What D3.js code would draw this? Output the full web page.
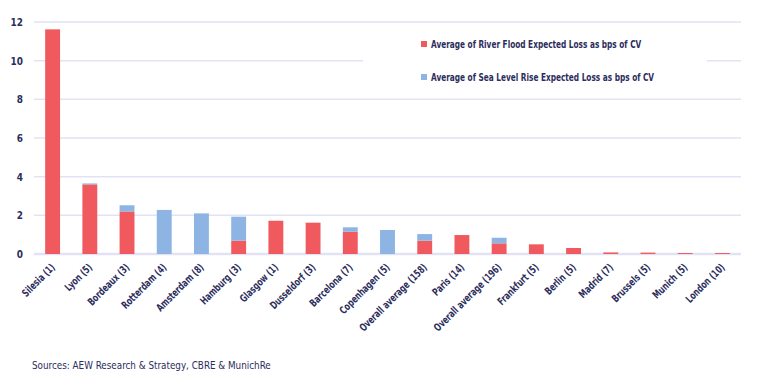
<!DOCTYPE html>
<html>
<head>
<meta charset="utf-8">
<script src="https://cdn.jsdelivr.net/npm/d3@7"></script>
<style>
  body { margin: 0; background: #fff; }
  svg text { font-family: "Liberation Sans Narrow", "DejaVu Sans Condensed", sans-serif; fill: #2b2d5c; }
</style>
</head>
<body>
<div id="chart"></div>
<script>
// cities (number of assets in brackets)
const categories = ["Silesia (1)", "Lyon (5)", "Bordeaux (3)", "Rotterdam (4)", "Amsterdam (8)", "Hamburg (3)",
  "Glasgow (1)", "Dusseldorf (3)", "Barcelona (7)", "Copenhagen (5)", "Overall average (158)", "Paris (14)",
  "Overall average (196)", "Frankfurt (5)", "Berlin (5)", "Madrid (7)", "Brussels (5)", "Munich (5)", "London (10)"];
const riverFlood = [11.62, 3.6, 2.2, 0, 0, 0.69, 1.72, 1.62, 1.15, 0, 0.69, 0.98, 0.55, 0.5, 0.31, 0.08, 0.07, 0.05, 0.05];
const seaLevel   = [0, 0.05, 0.32, 2.28, 2.1, 1.24, 0, 0, 0.23, 1.24, 0.34, 0, 0.29, 0, 0, 0, 0, 0, 0];
const yTicks = [0, 2, 4, 6, 8, 10, 12];
const seriesNames = ["Average of River Flood Expected Loss as bps of CV", "Average of Sea Level Rise Expected Loss as bps of CV"];
const colors = ["#f05a5e", "#8db4e2"];

const width = 759, height = 379;
const margin = {left: 34, right: 741, top: 22, bottom: 254};
const squeeze = 0.78; // the original font is a narrow one

const svg = d3.select("#chart").append("svg")
  .attr("width", width)
  .attr("height", height);

const x = d3.scaleBand().domain(categories).range([margin.left, margin.right]).paddingInner(0.6).paddingOuter(0.3);
const y = d3.scaleLinear().domain([0, 12]).range([margin.bottom, margin.top]);

// gridlines
svg.append("g").selectAll("line")
  .data(yTicks)
  .enter().append("line")
  .attr("x1", margin.left).attr("x2", margin.right)
  .attr("y1", d => y(d)).attr("y2", d => y(d))
  .attr("stroke", "#e1e3f5")
  .attr("stroke-width", d => d === 0 ? 2.5 : 1.5);

// y labels
svg.append("g").selectAll("text")
  .data(yTicks)
  .enter().append("text")
  .attr("transform", d => `translate(23,${y(d) + 4}) scale(0.9,1)`)
  .attr("text-anchor", "end")
  .attr("font-size", 11)
  .attr("font-weight", "bold")
  .text(d => d);

// stacked bars
const rows = categories.map((c, i) => ({cat: c, river: riverFlood[i], sea: seaLevel[i]}));
const stacked = d3.stack().keys(["river", "sea"])(rows);

svg.append("g").selectAll("g")
  .data(stacked)
  .enter().append("g")
  .attr("fill", (d, i) => colors[i])
  .selectAll("rect")
  .data(d => d)
  .enter().append("rect")
  .attr("x", d => x(d.data.cat))
  .attr("width", x.bandwidth())
  .attr("y", d => y(d[1]))
  .attr("height", d => y(d[0]) - y(d[1]));

// x labels, rotated
svg.append("g").selectAll("text")
  .data(categories)
  .enter().append("text")
  .attr("transform", d => `translate(${x(d) + x.bandwidth() / 2 + 3},${margin.bottom + 14}) rotate(-45) scale(${squeeze},1)`)
  .attr("text-anchor", "end")
  .attr("font-size", 10.5)
  .attr("font-weight", "bold")
  .text(d => d);

// legend box (hides part of the gridline behind it)
const legend = svg.append("g");
legend.append("rect")
  .attr("x", 363).attr("y", 30).attr("width", 344).attr("height", 62)
  .attr("fill", "#fff");
seriesNames.forEach((name, i) => {
  const ly = 44 + i * 33;
  legend.append("rect")
    .attr("x", 421).attr("y", ly - 3).attr("width", 6).attr("height", 6)
    .attr("fill", colors[i]);
  legend.append("text")
    .attr("transform", `translate(431,${ly + 4}) scale(${squeeze},1)`)
    .attr("font-size", 10.5)
    .attr("font-weight", "bold")
    .text(name);
});

// source note
svg.append("text")
  .attr("transform", "translate(32,369) scale(0.89,1)")
  .attr("font-size", 11)
  .text("Sources: AEW Research & Strategy, CBRE & MunichRe");
</script>
</body>
</html>
